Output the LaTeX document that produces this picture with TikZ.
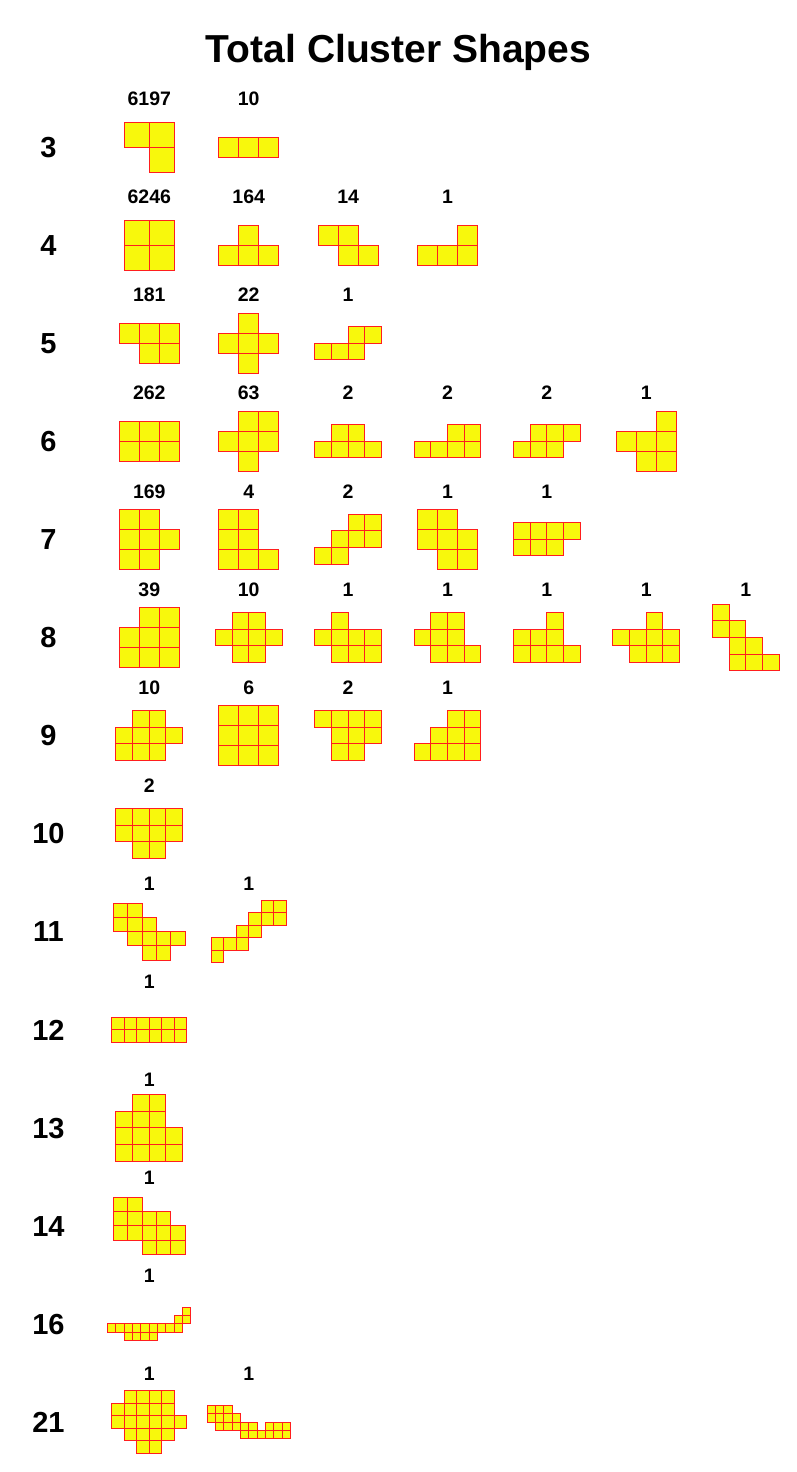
\documentclass[tikz,border=0pt]{standalone}
\usepackage{fontspec}
\setmainfont{Liberation Sans}
\definecolor{cellfill}{RGB}{248,248,12}
\definecolor{cellline}{RGB}{255,30,30}
\tikzset{
  cellfillstyle/.style={fill=cellfill},
  cellbox/.style={draw=cellline, line width=1.2pt, line join=miter},
  titletext/.style={font=\fontsize{39}{39}\selectfont\bfseries, anchor=base, inner sep=0pt},
  rowtext/.style={font=\fontsize{29}{29}\selectfont\bfseries, anchor=base, inner sep=0pt},
  counttext/.style={font=\fontsize{19.5}{19.5}\selectfont\bfseries, anchor=base, inner sep=0pt}
}
% #1 column index, #2 row index, #3 width, #4 height, #5 count, #6 cells
\newcommand{\clshape}[6]{%
  \pgfmathsetmacro{\clcx}{149.3+99.4*#1}%
  \pgfmathsetmacro{\clcy}{147+98.08*#2}%
  \pgfmathsetmacro{\clsz}{100/(max(#3,#4)+2)}%
  \pgfmathsetmacro{\clxo}{\clcx-#3*\clsz/2}%
  \pgfmathsetmacro{\clyo}{\clcy-#4*\clsz/2}%
  \foreach \ci/\cj in {#6} {
    \pgfmathsetmacro{\cla}{floor(\clxo+\ci*\clsz)+0.5}%
    \pgfmathsetmacro{\clb}{floor(\clyo+\cj*\clsz)+0.5}%
    \pgfmathsetmacro{\clc}{floor(\clxo+(\ci+1)*\clsz)+0.5}%
    \pgfmathsetmacro{\cld}{floor(\clyo+(\cj+1)*\clsz)+0.5}%
    \fill[cellfillstyle] (\cla,\clb) rectangle (\clc,\cld);
  }
  \foreach \ci/\cj in {#6} {
    \pgfmathsetmacro{\cla}{floor(\clxo+\ci*\clsz)+0.5}%
    \pgfmathsetmacro{\clb}{floor(\clyo+\cj*\clsz)+0.5}%
    \pgfmathsetmacro{\clc}{floor(\clxo+(\ci+1)*\clsz)+0.5}%
    \pgfmathsetmacro{\cld}{floor(\clyo+(\cj+1)*\clsz)+0.5}%
    \draw[cellbox] (\cla,\clb) rectangle (\clc,\cld);
  }
  \node[counttext] (cnt-#2-#1) at (\clcx,\clcy-41.3) {#5};
}
\newcommand{\clrow}[2]{%
  \pgfmathsetmacro{\clry}{147+98.08*#1+10.3}%
  \node[rowtext] (row-#1) at (48.5,\clry) {#2};
}
\begin{document}
\begin{tikzpicture}[x=1pt,y=-1pt]
\useasboundingbox (0,0) rectangle (796,1472);
\node[titletext] (title) at (398.5,63) {Total Cluster Shapes};

% row labels
\clrow{0}{3}
\clrow{1}{4}
\clrow{2}{5}
\clrow{3}{6}
\clrow{4}{7}
\clrow{5}{8}
\clrow{6}{9}
\clrow{7}{10}
\clrow{8}{11}
\clrow{9}{12}
\clrow{10}{13}
\clrow{11}{14}
\clrow{12}{16}
\clrow{13}{21}

% size 3
\clshape{0}{0}{2}{2}{6197}{0/0,1/0,1/1}
\clshape{1}{0}{3}{1}{10}{0/0,1/0,2/0}
% size 4
\clshape{0}{1}{2}{2}{6246}{0/0,1/0,0/1,1/1}
\clshape{1}{1}{3}{2}{164}{1/0,0/1,1/1,2/1}
\clshape{2}{1}{3}{2}{14}{0/0,1/0,1/1,2/1}
\clshape{3}{1}{3}{2}{1}{2/0,0/1,1/1,2/1}
% size 5
\clshape{0}{2}{3}{2}{181}{0/0,1/0,2/0,1/1,2/1}
\clshape{1}{2}{3}{3}{22}{1/0,0/1,1/1,2/1,1/2}
\clshape{2}{2}{4}{2}{1}{2/0,3/0,0/1,1/1,2/1}
% size 6
\clshape{0}{3}{3}{2}{262}{0/0,1/0,2/0,0/1,1/1,2/1}
\clshape{1}{3}{3}{3}{63}{1/0,2/0,0/1,1/1,2/1,1/2}
\clshape{2}{3}{4}{2}{2}{1/0,2/0,0/1,1/1,2/1,3/1}
\clshape{3}{3}{4}{2}{2}{2/0,3/0,0/1,1/1,2/1,3/1}
\clshape{4}{3}{4}{2}{2}{1/0,2/0,3/0,0/1,1/1,2/1}
\clshape{5}{3}{3}{3}{1}{2/0,0/1,1/1,2/1,1/2,2/2}
% size 7
\clshape{0}{4}{3}{3}{169}{0/0,1/0,0/1,1/1,2/1,0/2,1/2}
\clshape{1}{4}{3}{3}{4}{0/0,1/0,0/1,1/1,0/2,1/2,2/2}
\clshape{2}{4}{4}{3}{2}{2/0,3/0,1/1,2/1,3/1,0/2,1/2}
\clshape{3}{4}{3}{3}{1}{0/0,1/0,0/1,1/1,2/1,1/2,2/2}
\clshape{4}{4}{4}{2}{1}{0/0,1/0,2/0,3/0,0/1,1/1,2/1}
% size 8
\clshape{0}{5}{3}{3}{39}{1/0,2/0,0/1,1/1,2/1,0/2,1/2,2/2}
\clshape{1}{5}{4}{3}{10}{1/0,2/0,0/1,1/1,2/1,3/1,1/2,2/2}
\clshape{2}{5}{4}{3}{1}{1/0,0/1,1/1,2/1,3/1,1/2,2/2,3/2}
\clshape{3}{5}{4}{3}{1}{1/0,2/0,0/1,1/1,2/1,1/2,2/2,3/2}
\clshape{4}{5}{4}{3}{1}{2/0,0/1,1/1,2/1,0/2,1/2,2/2,3/2}
\clshape{5}{5}{4}{3}{1}{2/0,0/1,1/1,2/1,3/1,1/2,2/2,3/2}
\clshape{6}{5}{4}{4}{1}{0/0,0/1,1/1,1/2,2/2,1/3,2/3,3/3}
% size 9
\clshape{0}{6}{4}{3}{10}{1/0,2/0,0/1,1/1,2/1,3/1,0/2,1/2,2/2}
\clshape{1}{6}{3}{3}{6}{0/0,1/0,2/0,0/1,1/1,2/1,0/2,1/2,2/2}
\clshape{2}{6}{4}{3}{2}{0/0,1/0,2/0,3/0,1/1,2/1,3/1,1/2,2/2}
\clshape{3}{6}{4}{3}{1}{2/0,3/0,1/1,2/1,3/1,0/2,1/2,2/2,3/2}
% size 10
\clshape{0}{7}{4}{3}{2}{0/0,1/0,2/0,3/0,0/1,1/1,2/1,3/1,1/2,2/2}
% size 11
\clshape{0}{8}{5}{4}{1}{0/0,1/0,0/1,1/1,2/1,1/2,2/2,3/2,4/2,2/3,3/3}
\clshape{1}{8}{6}{5}{1}{4/0,5/0,3/1,4/1,5/1,2/2,3/2,0/3,1/3,2/3,0/4}
% size 12
\clshape{0}{9}{6}{2}{1}{0/0,1/0,2/0,3/0,4/0,5/0,0/1,1/1,2/1,3/1,4/1,5/1}
% size 13
\clshape{0}{10}{4}{4}{1}{1/0,2/0,0/1,1/1,2/1,0/2,1/2,2/2,3/2,0/3,1/3,2/3,3/3}
% size 14
\clshape{0}{11}{5}{4}{1}{0/0,1/0,0/1,1/1,2/1,3/1,0/2,1/2,2/2,3/2,4/2,2/3,3/3,4/3}
% size 16
\clshape{0}{12}{10}{4}{1}{9/0,8/1,9/1,0/2,1/2,2/2,3/2,4/2,5/2,6/2,7/2,8/2,2/3,3/3,4/3,5/3}
% size 21
\clshape{0}{13}{6}{5}{1}{1/0,2/0,3/0,4/0,0/1,1/1,2/1,3/1,4/1,0/2,1/2,2/2,3/2,4/2,5/2,1/3,2/3,3/3,4/3,2/4,3/4}
\clshape{1}{13}{10}{4}{1}{0/0,1/0,2/0,0/1,1/1,2/1,3/1,1/2,2/2,3/2,4/2,5/2,7/2,8/2,9/2,4/3,5/3,6/3,7/3,8/3,9/3}
\end{tikzpicture}
\end{document}
